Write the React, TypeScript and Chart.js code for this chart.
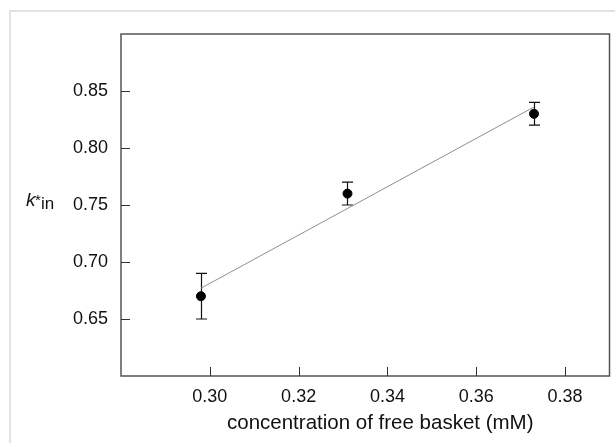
import React, { useEffect, useRef } from "react";
import { Chart, registerables } from "chart.js";

Chart.register(...registerables);

// Measured rate constant vs. free basket concentration
const concentration = [0.298, 0.331, 0.373];
const kIn = [0.67, 0.76, 0.83];
const kInError = [0.02, 0.01, 0.01];

// Least-squares line through the measurements (end points)
const fitX = [0.298, 0.373];
const fitY = [0.677, 0.836];

const xTicks = [0.3, 0.32, 0.34, 0.36, 0.38];
const yTicks = [0.65, 0.7, 0.75, 0.8, 0.85];
const xTitle = "concentration of free basket (mM)";

const FONT = "'Liberation Sans', Arial, Helvetica, sans-serif";

const framePlugin = {
  id: "frame",
  beforeDraw(chart: any) {
    const { ctx, width, height } = chart;
    ctx.save();
    ctx.fillStyle = "#ffffff";
    ctx.fillRect(0, 0, width, height);
    ctx.strokeStyle = "#e2e2e2";
    ctx.lineWidth = 2;
    ctx.beginPath();
    ctx.moveTo(10, height);
    ctx.lineTo(10, 11);
    ctx.lineTo(width, 11);
    ctx.stroke();
    ctx.restore();
  },
  beforeDatasetsDraw(chart: any) {
    const { ctx } = chart;
    const xs = chart.scales.x;
    const ys = chart.scales.y;
    ctx.save();
    ctx.strokeStyle = "#111";
    ctx.lineWidth = 1.2;
    concentration.forEach((c, i) => {
      const px = Math.round(xs.getPixelForValue(c)) + 0.5;
      const top = ys.getPixelForValue(kIn[i] + kInError[i]);
      const bot = ys.getPixelForValue(kIn[i] - kInError[i]);
      ctx.beginPath();
      ctx.moveTo(px, top);
      ctx.lineTo(px, bot);
      ctx.moveTo(px - 5.5, top);
      ctx.lineTo(px + 5.5, top);
      ctx.moveTo(px - 5.5, bot);
      ctx.lineTo(px + 5.5, bot);
      ctx.stroke();
    });
    ctx.restore();
  },
  afterDraw(chart: any) {
    const { ctx, chartArea } = chart;
    const { left, right, top, bottom } = chartArea;
    const xs = chart.scales.x;
    const ys = chart.scales.y;
    ctx.save();
    // plot box
    ctx.strokeStyle = "#555";
    ctx.lineWidth = 1.5;
    ctx.strokeRect(left, top, right - left, bottom - top);
    // inward tick marks
    ctx.lineWidth = 1;
    ctx.strokeStyle = "#333";
    ctx.beginPath();
    xTicks.forEach((v) => {
      const px = Math.round(xs.getPixelForValue(v)) + 0.5;
      ctx.moveTo(px, bottom);
      ctx.lineTo(px, bottom - 9);
    });
    yTicks.forEach((v) => {
      const py = Math.round(ys.getPixelForValue(v)) + 0.5;
      ctx.moveTo(left, py);
      ctx.lineTo(left + 9, py);
    });
    ctx.stroke();

    // x-axis title
    ctx.fillStyle = "#111";
    ctx.font = `20.5px ${FONT}`;
    ctx.textAlign = "center";
    ctx.textBaseline = "alphabetic";
    ctx.fillText(xTitle, (left + right) / 2 + 15, 429);

    // y-axis title: k*in
    ctx.textAlign = "left";
    ctx.font = `italic 19px ${FONT}`;
    ctx.fillText("k", 26, 206);
    ctx.font = `15px ${FONT}`;
    ctx.fillText("*", 35, 205);
    ctx.font = `17px ${FONT}`;
    ctx.fillText("in", 41, 209);
    ctx.restore();
  },
};

export default function App() {
  const canvasRef = useRef<HTMLCanvasElement | null>(null);

  useEffect(() => {
    const canvas = canvasRef.current;
    if (!canvas) return;
    const chart = new Chart(canvas, {
      type: "scatter",
      data: {
        datasets: [
          {
            type: "line",
            label: "fit",
            data: fitX.map((x, i) => ({ x, y: fitY[i] })),
            borderColor: "#8f8f8f",
            borderWidth: 1,
            pointRadius: 0,
            fill: false,
            order: 2,
          },
          {
            label: "k*in",
            data: concentration.map((x, i) => ({ x, y: kIn[i] })),
            backgroundColor: "#000",
            borderColor: "#000",
            pointRadius: 4.5,
            order: 1,
          },
        ],
      },
      options: {
        animation: false,
        responsive: false,
        events: [],
        layout: { padding: { left: 0, right: 3, top: 34, bottom: 0 } },
        plugins: { legend: { display: false }, tooltip: { enabled: false } },
        scales: {
          x: {
            type: "linear",
            min: 0.28,
            max: 0.39,
            grid: { display: false, drawTicks: false },
            border: { display: false },
            afterBuildTicks: (scale: any) => {
              scale.ticks = xTicks.map((value) => ({ value }));
            },
            afterFit: (scale: any) => {
              scale.height = 67;
            },
            ticks: {
              padding: 10,
              color: "#111",
              font: { family: FONT, size: 18 },
              callback: (v: any) => Number(v).toFixed(2),
            },
          },
          y: {
            type: "linear",
            min: 0.6,
            max: 0.9,
            grid: { display: false, drawTicks: false },
            border: { display: false },
            afterBuildTicks: (scale: any) => {
              scale.ticks = yTicks.map((value) => ({ value }));
            },
            afterFit: (scale: any) => {
              scale.width = 121;
            },
            ticks: {
              padding: 13,
              color: "#111",
              font: { family: FONT, size: 18 },
              callback: (v: any) => Number(v).toFixed(2),
            },
          },
        },
      },
      plugins: [framePlugin],
    });
    return () => chart.destroy();
  }, []);

  return (
    <div style={{ position: "fixed", left: 0, top: 0, width: 615, height: 443 }}>
      <canvas ref={canvasRef} width={615} height={443} />
    </div>
  );
}
